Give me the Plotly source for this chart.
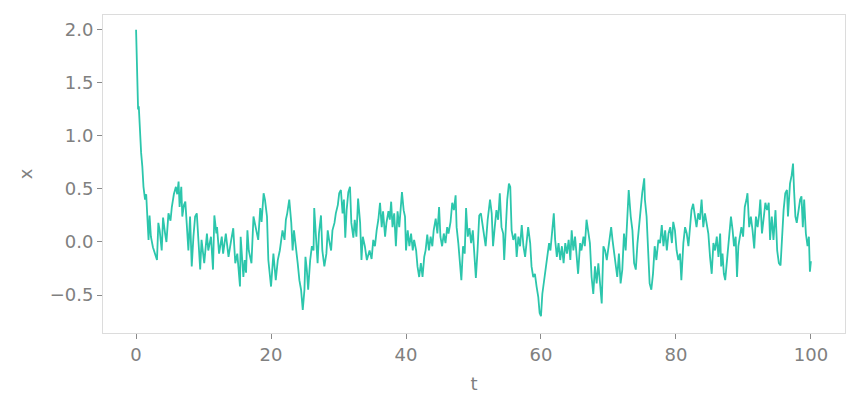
import plotly.graph_objects as go

t = [0, 0.1, 0.2, 0.3, 0.4, 0.5, 0.6, 0.75, 0.93, 1.1, 1.33, 1.5, 1.7, 1.85, 2.0, 2.2, 2.5, 2.8, 3.1, 3.3,
     3.5, 3.8, 4.0, 4.3, 4.5, 4.8, 5.1, 5.3, 5.6, 5.9, 6.1, 6.3, 6.45, 6.7, 6.85, 7.1, 7.3, 7.5, 7.75, 8.0,
     8.25, 8.5, 8.75, 9.0, 9.25, 9.5, 9.7, 10.1, 10.5, 10.7, 11.1, 11.4, 11.6, 11.9, 12.0, 12.3, 12.7, 12.9, 13.3, 13.7,
     14.1, 14.4, 14.7, 15.0, 15.4, 15.5, 15.9, 16.1, 16.3, 16.5, 16.7,
     17.1, 17.4, 17.8, 18.1, 18.4, 18.6, 18.9, 19.1, 19.4, 19.6, 20.0, 20.35, 20.7, 21.0, 21.3, 21.7, 22.0, 22.2, 22.4, 22.7,
     23.0, 23.2, 23.4, 23.7, 23.95, 24.2, 24.45, 24.7, 24.95, 25.1, 25.3, 25.5, 25.8, 26.05, 26.3, 26.4, 26.7, 26.9, 27.1, 27.4,
     27.6, 27.9, 28.2, 28.4, 28.6, 28.9, 29.1, 29.4, 29.6, 29.9, 30.1, 30.35, 30.6, 30.8, 31.0, 31.2, 31.45, 31.7, 31.9, 32.2,
     32.4, 32.65, 32.9, 33.2, 33.4, 33.6, 33.9, 34.2,
     34.6, 34.9, 35.15, 35.4, 35.65, 35.9, 36.15, 36.4, 36.6, 36.9, 37.1, 37.4, 37.6, 37.8, 38.0, 38.25, 38.5, 38.75, 39.0, 39.25,
     39.4, 39.65, 39.85, 40.0, 40.25, 40.5, 40.75, 41.0, 41.2, 41.5, 41.7, 41.95, 42.2, 42.45, 42.7, 42.9, 43.15, 43.4, 43.65, 43.9,
     44.1, 44.4, 44.65, 44.9, 45.1, 45.35, 45.6, 45.85, 46.1, 46.3, 46.6, 46.85, 47.1, 47.35, 47.5, 47.75, 48.0, 48.2, 48.45, 48.7,
     48.9, 49.15, 49.4, 49.65, 49.9, 50.15, 50.35, 50.6, 50.85, 51.1, 51.35, 51.6, 51.8, 52.1, 52.45,
     52.7, 52.9, 53.15, 53.4, 53.65, 53.9, 54.15, 54.4, 54.55, 54.8, 55.0, 55.25, 55.45, 55.65, 55.9, 56.2, 56.4, 56.65, 56.9, 57.15,
     57.4, 57.65, 57.9, 58.1, 58.4, 58.6, 58.85, 59.1, 59.35, 59.6, 59.8, 60.0, 60.2, 60.4, 60.7, 60.95, 61.2, 61.4, 61.7, 61.9,
     62.1, 62.35, 62.6, 62.85, 63.1, 63.35, 63.6, 63.85, 64.1, 64.35, 64.55, 64.8, 65.05, 65.3, 65.5, 65.8, 66.0, 66.3, 66.5, 66.75,
     67.0, 67.25, 67.5, 67.75, 68.0, 68.25, 68.5, 68.75, 69.0, 69.25, 69.5, 69.75,
     70.1, 70.4, 70.6, 70.8, 71.05, 71.3, 71.55, 71.8, 72.05, 72.3, 72.55, 72.8, 73.0, 73.3, 73.55, 73.8, 74.05, 74.3, 74.5, 74.75,
     75.0, 75.3, 75.4, 75.65, 75.9, 76.1, 76.35, 76.6, 76.85, 77.1, 77.4, 77.65, 77.9, 78.15, 78.4, 78.65, 78.9, 79.15, 79.4, 79.6,
     79.85, 80.1, 80.35, 80.6, 80.8, 81.1, 81.35, 81.6, 81.85, 82.1, 82.3, 82.55, 82.8, 83.05, 83.3, 83.55, 83.8, 84.05, 84.3, 84.55,
     84.8, 85.05, 85.3, 85.55, 85.8, 86.05, 86.3, 86.55,
     86.7, 86.9, 87.1, 87.3, 87.55, 87.75, 87.95, 88.15, 88.4, 88.6, 88.85, 89.05, 89.25, 89.5, 89.7, 89.95, 90.2, 90.45, 90.6, 90.85,
     91.1, 91.35, 91.6, 91.85, 92.1, 92.35, 92.5, 92.75, 93.0, 93.25, 93.5, 93.75, 93.95, 94.2, 94.45, 94.75, 95.0, 95.25, 95.5, 95.7,
     95.95, 96.2, 96.45, 96.6, 96.9, 97.15, 97.35, 97.5, 97.7, 97.9, 98.15, 98.4, 98.6, 98.8, 99.0, 99.25, 99.5, 99.7, 99.85, 100.0]

x = [2.0, 1.7, 1.36, 1.25, 1.28, 1.1, 0.99, 0.84, 0.71, 0.52, 0.40, 0.45, 0.2, 0.02, 0.25, 0.05, -0.05, -0.1, -0.17, 0.18,
     0.11, -0.08, 0.23, 0.08, 0.0, 0.27, 0.2, 0.33, 0.45, 0.52, 0.45, 0.57, 0.33, 0.52, 0.24, 0.35, 0.38, 0.18, -0.08, 0.24,
     -0.23, 0.05, 0.24, 0.27, 0.0, -0.26, 0.02, -0.2, 0.08, -0.08, 0.05, -0.26, 0.25, 0.08, 0.14, -0.11, 0.05, -0.11, 0.08, -0.14,
     0.02, 0.13, -0.2, -0.11, -0.42, 0.05, -0.33, -0.17, -0.29, 0.11, -0.08,
     -0.2, 0.24, 0.1, 0.02, 0.32, 0.19, 0.46, 0.40, 0.24, -0.17, -0.42, -0.11, -0.36, -0.17, -0.08, 0.11, 0.02, 0.21, 0.27, 0.40,
     0.18, -0.08, 0.11, -0.04, -0.2, -0.36, -0.45, -0.64, -0.45, -0.14, -0.26, -0.45, -0.17, -0.04, -0.08, 0.32, 0.05, -0.2, 0.08, 0.25,
     -0.08, -0.23, -0.11, 0.11, 0.02, -0.08, 0.11, 0.18, 0.27, 0.35, 0.46, 0.49, 0.27, 0.40, 0.04, 0.30, 0.47, 0.52, 0.18, 0.04,
     0.21, 0.05, 0.41, 0.18, -0.17, 0.05, -0.04, -0.17,
     -0.08, -0.16, 0.02, -0.04, 0.11, 0.21, 0.37, 0.14, 0.29, 0.05, 0.18, 0.29, 0.21, 0.38, 0.14, 0.27, -0.04, 0.29, 0.14, 0.40,
     0.47, 0.30, 0.24, -0.08, 0.11, -0.04, 0.08, -0.08, 0.02, -0.08, -0.23, -0.33, -0.2, -0.33, -0.14, -0.08, 0.07, -0.08, 0.05, -0.04,
     0.11, 0.22, 0.08, 0.33, 0.05, -0.04, 0.08, -0.01, 0.14, 0.08, 0.19, 0.37, 0.30, 0.44, 0.14, -0.01, -0.2, -0.36, -0.04, -0.11,
     0.32, 0.05, 0.13, -0.01, 0.11, -0.2, -0.34, -0.08, 0.25, 0.27, 0.14, 0.05, -0.04, 0.21, 0.40,
     0.27, -0.04, 0.14, 0.30, 0.21, 0.46, 0.14, 0.08, -0.17, 0.24, 0.40, 0.55, 0.52, 0.11, 0.02, 0.08, -0.14, 0.05, -0.04, 0.16,
     -0.04, -0.14, 0.02, 0.14, -0.01, -0.23, -0.33, -0.30, -0.42, -0.52, -0.67, -0.70, -0.49, -0.39, -0.23, -0.14, -0.01, -0.08, 0.18, 0.27,
     0.02, -0.14, -0.01, -0.17, -0.04, -0.2, -0.01, -0.11, 0.02, -0.17, 0.11, -0.08, 0.05, -0.2, -0.30, -0.01, -0.08, 0.05, -0.04, 0.21,
     0.11, -0.01, -0.33, -0.49, -0.23, -0.39, -0.2, -0.42, -0.58, -0.04, -0.08, -0.17,
     -0.01, 0.14, 0.02, -0.08, -0.2, -0.33, -0.11, -0.39, -0.26, 0.08, -0.08, 0.30, 0.49, 0.24, 0.11, -0.2, -0.26, -0.01, 0.14, 0.30,
     0.46, 0.60, 0.40, 0.24, -0.08, -0.39, -0.45, -0.30, -0.04, -0.17, 0.02, -0.01, 0.16, -0.04, 0.11, -0.08, 0.08, 0.14, -0.01, 0.19,
     0.11, -0.08, -0.17, -0.11, -0.36, -0.01, 0.14, 0.08, -0.04, 0.14, 0.30, 0.36, 0.24, 0.14, 0.27, 0.21, 0.40, 0.14, 0.27, 0.18,
     0.08, -0.14, -0.30, -0.01, -0.08, 0.05, -0.14, 0.08,
     -0.23, -0.11, -0.30, -0.36, -0.17, -0.08, 0.08, 0.24, 0.11, -0.04, 0.05, -0.33, -0.04, 0.05, 0.14, 0.05, 0.33, 0.40, 0.46, 0.14,
     0.24, 0.11, -0.06, 0.24, 0.14, 0.27, 0.40, 0.08, 0.24, 0.37, 0.30, 0.37, 0.02, 0.24, 0.02, 0.30, -0.08, -0.2, -0.22, 0.08,
     0.30, 0.46, 0.49, 0.24, 0.55, 0.63, 0.74, 0.49, 0.24, 0.18, 0.30, 0.40, 0.43, 0.14, 0.40, 0.08, -0.04, 0.05, -0.28, -0.18]

x_ticks = [0, 20, 40, 60, 80, 100]
y_ticks = [-0.5, 0.0, 0.5, 1.0, 1.5, 2.0]

fig = go.Figure(go.Scatter(x=t, y=x, mode="lines",
                           line=dict(color="#2cc6ac", width=1.8), hoverinfo="skip"))

axis_common = dict(showgrid=False, zeroline=False, showline=True, mirror=True,
                   linecolor="#dcdcdc", linewidth=1, ticks="outside", ticklen=5,
                   tickcolor="#8a8a8a", tickwidth=1,
                   tickfont=dict(family="DejaVu Sans", size=18, color="#808080"),
                   title_font=dict(family="DejaVu Sans", size=18, color="#808080"))

fig.update_xaxes(range=[-4.9, 105.05], tickvals=x_ticks, title_text="t", title_standoff=13, **axis_common)
fig.update_yaxes(range=[-0.858, 2.14], tickvals=y_ticks, tickformat=".1f", title_text="x",
                 title_standoff=12, **axis_common)

fig.update_layout(width=851, height=401, margin=dict(l=95, r=14, t=7, b=76),
                  plot_bgcolor="white", paper_bgcolor="white", showlegend=False)

fig.write_html("out.html")
